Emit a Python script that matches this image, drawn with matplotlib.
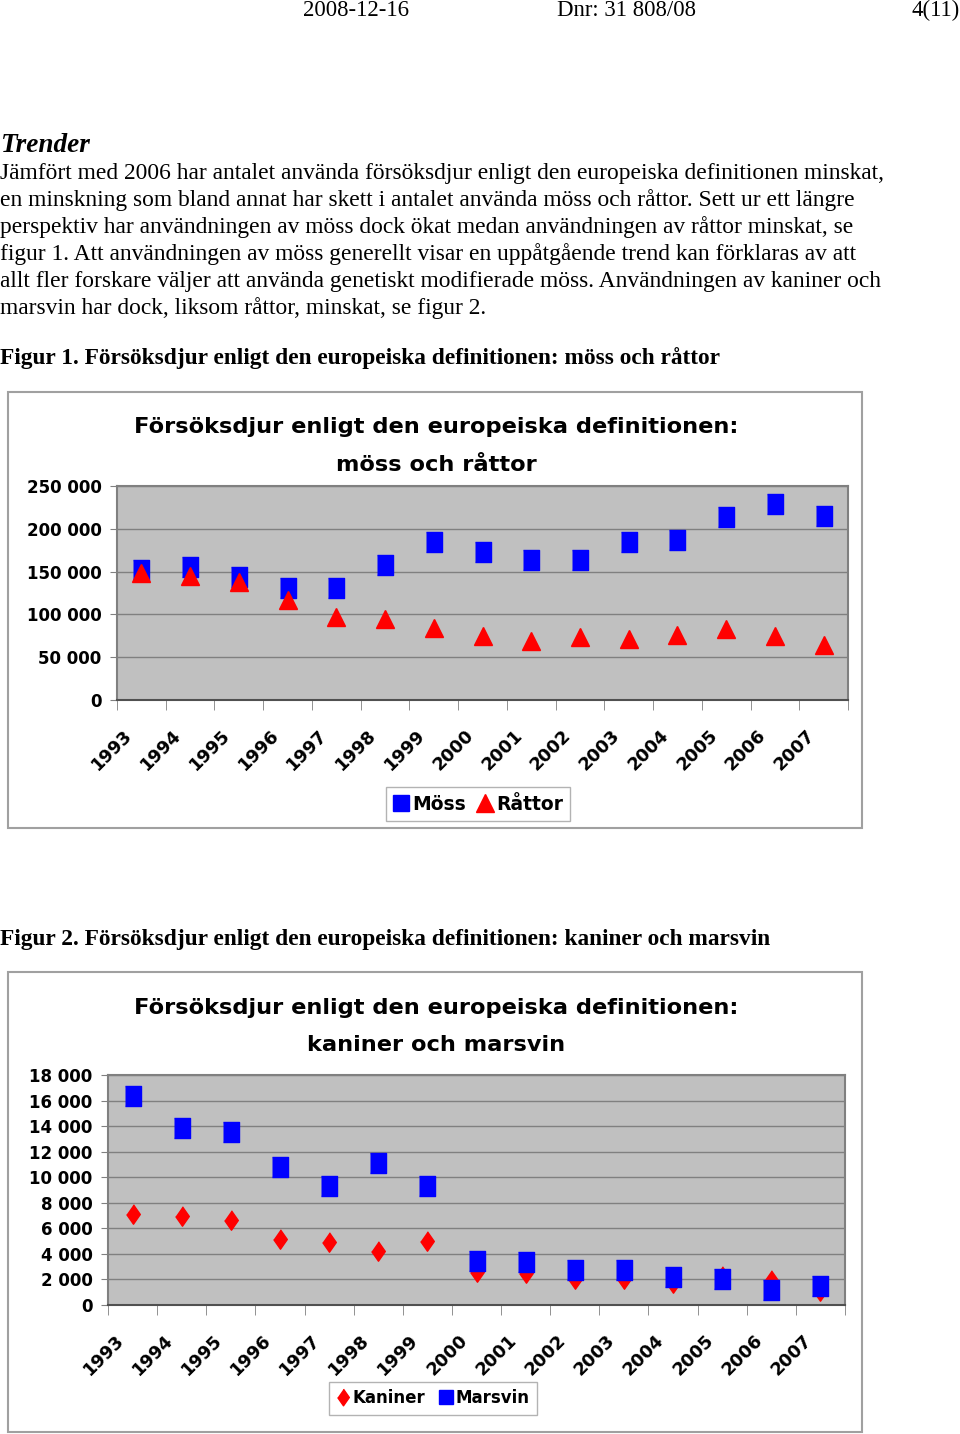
import numpy as np
import matplotlib
matplotlib.use("Agg")
import matplotlib.pyplot as plt
from matplotlib.patches import Rectangle
from matplotlib.lines import Line2D
from matplotlib.transforms import ScaledTranslation

# ---------------------------
# DATA
# ---------------------------
years = ["1993", "1994", "1995", "1996", "1997", "1998", "1999", "2000",
         "2001", "2002", "2003", "2004", "2005", "2006", "2007"]

moss = [151500, 155400, 143800, 131400, 131400, 157400, 184100, 172500,
        163200, 163200, 184900, 186400, 214000, 228700, 215100]
rattor = [148000, 144600, 138000, 117400, 97300, 94200, 84100, 74800,
          69000, 73600, 71700, 76000, 82600, 74800, 64300]

kaniner = [7110, 6930, 6640, 5160, 4950, 4190, 5030, 2550,
           2500, 2030, 2030, 1720, 2250, 1980, 1120]
marsvin = [16330, 13880, 13520, 10830, 9300, 11120, 9320, 3440,
           3330, 2760, 2760, 2210, 2000, 1150, 1510]

body_lines = [
    "Jämfört med 2006 har antalet använda försöksdjur enligt den europeiska definitionen minskat,",
    "en minskning som bland annat har skett i antalet använda möss och råttor. Sett ur ett längre",
    "perspektiv har användningen av möss dock ökat medan användningen av råttor minskat, se",
    "figur 1. Att användningen av möss generellt visar en uppåtgående trend kan förklaras av att",
    "allt fler forskare väljer att använda genetiskt modifierade möss. Användningen av kaniner och",
    "marsvin har dock, liksom råttor, minskat, se figur 2.",
]

# ---------------------------
# SETTINGS
# ---------------------------
W, H = 960, 1434
SERIF = "Liberation Serif"
SANS = "DejaVu Sans"
BLUE = "#0000ff"
RED = "#ff0000"
RECT = [(-0.8, -1), (0.8, -1), (0.8, 1), (-0.8, 1)]
DIAM = [(0, 1), (0.7, 0), (0, -1), (-0.7, 0)]

fig = plt.figure(figsize=(W / 100, H / 100), dpi=100)


def fx(x):
    return x / W


def fy(y):
    return 1 - y / H


def page_text(x, y, s, **kw):
    kw.setdefault("family", SERIF)
    kw.setdefault("fontsize", 16.9)
    kw.setdefault("va", "center")
    fig.text(fx(x), fy(y), s, **kw)


def chart_box(x0, y0, x1, y1):
    fig.add_artist(Rectangle((fx(x0), fy(y1)), fx(x1 - x0), (y1 - y0) / H,
                             transform=fig.transFigure, facecolor="white",
                             edgecolor="#a0a0a0", lw=1.5, zorder=-10))


def make_axes(x0, y0, x1, y1, ymax, ystep):
    ax = fig.add_axes([fx(x0), fy(y1), fx(x1 - x0), (y1 - y0) / H])
    ax.set_facecolor("#c0c0c0")
    ax.set_xlim(-0.5, len(years) - 0.5)
    ax.set_ylim(0, ymax)
    ticks = np.arange(0, ymax + 1, ystep)
    ax.set_yticks(ticks)
    ax.set_yticklabels([f"{int(t):,}".replace(",", " ") for t in ticks],
                       fontsize=12, fontweight="bold", family=SANS)
    ax.yaxis.grid(True, color="#808080", lw=1)
    ax.set_axisbelow(True)
    ax.tick_params(axis="y", length=5, color="#808080", pad=6)

    ax.set_xticks(np.arange(len(years)))
    ax.set_xticklabels(years, rotation=45, ha="right", va="top",
                       rotation_mode="anchor", fontsize=12.8,
                       fontweight="bold", family=SANS)
    ax.set_xticks(np.arange(-0.5, len(years)), minor=True)
    ax.tick_params(axis="x", which="major", length=0, pad=19)
    ax.tick_params(axis="x", which="minor", length=7, color="#808080")
    shift = ScaledTranslation(-0.18, 0, fig.dpi_scale_trans)
    for lbl in ax.get_xticklabels():
        lbl.set_transform(lbl.get_transform() + shift)

    for side in ["top", "right", "left"]:
        ax.spines[side].set_color("#808080")
        ax.spines[side].set_linewidth(1.5)
    ax.spines["bottom"].set_color("#505050")
    ax.spines["bottom"].set_linewidth(1.5)
    return ax


def chart_title(y1, y2, line1, line2):
    for y, s in [(y1, line1), (y2, line2)]:
        fig.text(fx(436), fy(y), s, ha="center", va="center", family=SANS,
                 fontsize=16.2, fontweight="bold")


# ---------------------------
# PAGE TEXT
# ---------------------------
page_text(356, 10, "2008-12-16", ha="center", fontsize=16.4)
page_text(557, 10, "Dnr: 31 808/08", ha="left", fontsize=16.4)
page_text(960, 10, "4(11)", ha="right", fontsize=16.4)

page_text(0, 145, "Trender", fontsize=19.6, fontweight="bold", style="italic")
for i, line in enumerate(body_lines):
    page_text(0, 173 + 27 * i, line)

page_text(0, 358, "Figur 1. Försöksdjur enligt den europeiska definitionen: möss och råttor",
          fontweight="bold", fontsize=16.8)
page_text(0, 940, "Figur 2. Försöksdjur enligt den europeiska definitionen: kaniner och marsvin",
          fontweight="bold", fontsize=16.8)

# ---------------------------
# 1. Möss och råttor
# ---------------------------
chart_box(8, 392, 862, 828)
chart_title(427, 465, "Försöksdjur enligt den europeiska definitionen:",
            "möss och råttor")
ax1 = make_axes(117, 486, 848, 700, 250000, 50000)
x = np.arange(len(years))
ax1.plot(x, moss, linestyle="none", marker=RECT, markersize=14,
         color=BLUE, clip_on=False)
ax1.plot(x, rattor, linestyle="none", marker="^", markersize=13,
         color=RED, clip_on=False)

h1 = [Line2D([], [], linestyle="none", marker="s", markersize=11, color=BLUE),
      Line2D([], [], linestyle="none", marker="^", markersize=13, color=RED)]
fig.legend(h1, ["Möss", "Råttor"], loc="center",
           bbox_to_anchor=(fx(478), fy(804)), ncol=2, frameon=True,
           fancybox=False, edgecolor="#a0a0a0", handlelength=0.8,
           handletextpad=0.2, columnspacing=0.6, borderpad=0.4,
           prop={"family": SANS, "weight": "bold", "size": 13.5})

# ---------------------------
# 2. Kaniner och marsvin
# ---------------------------
chart_box(8, 972, 862, 1432)
chart_title(1008, 1045, "Försöksdjur enligt den europeiska definitionen:",
            "kaniner och marsvin")
ax2 = make_axes(108, 1075, 845, 1305, 18000, 2000)
ax2.plot(x, kaniner, linestyle="none", marker=DIAM, markersize=14,
         color=RED, clip_on=False)
ax2.plot(x, marsvin, linestyle="none", marker=RECT, markersize=14,
         color=BLUE, clip_on=False)

h2 = [Line2D([], [], linestyle="none", marker=DIAM, markersize=12, color=RED),
      Line2D([], [], linestyle="none", marker="s", markersize=10, color=BLUE)]
fig.legend(h2, ["Kaniner", "Marsvin"], loc="center",
           bbox_to_anchor=(fx(433), fy(1398)), ncol=2, frameon=True,
           fancybox=False, edgecolor="#a0a0a0", handlelength=0.8,
           handletextpad=0.2, columnspacing=0.8, borderpad=0.45,
           prop={"family": SANS, "weight": "bold", "size": 12})

fig.savefig("out.png", dpi=100)
